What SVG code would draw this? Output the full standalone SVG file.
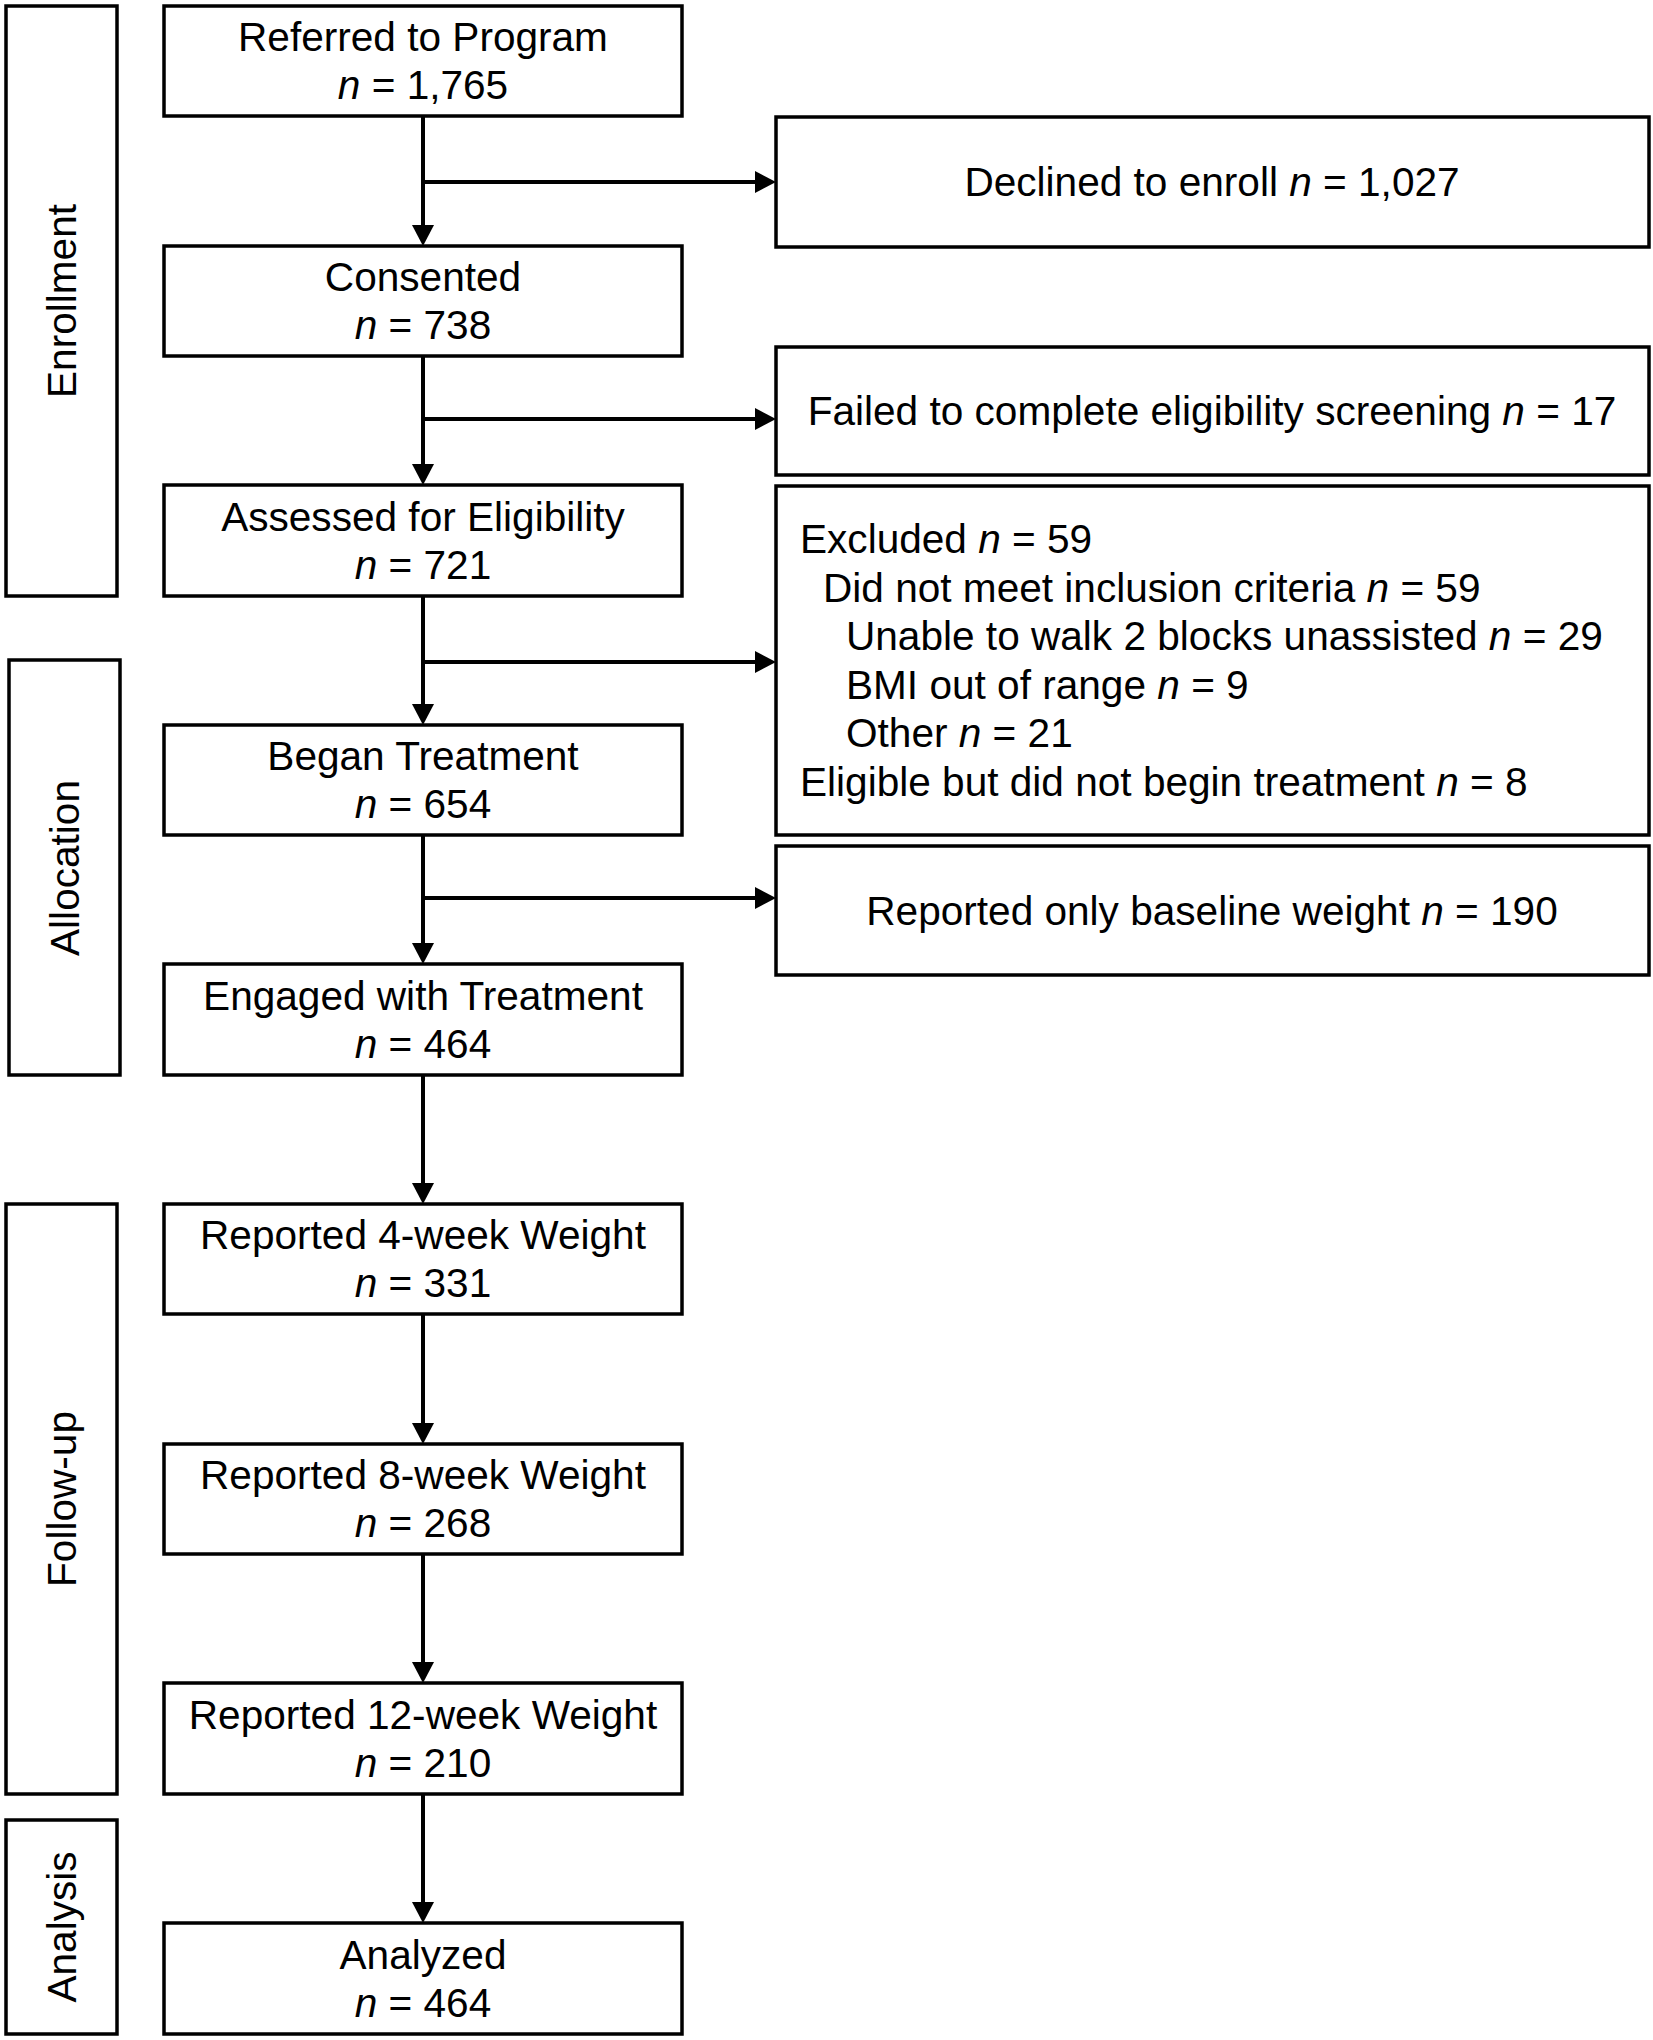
<svg xmlns="http://www.w3.org/2000/svg" width="1653" height="2040" viewBox="0 0 1653 2040">
<defs>
<style>
.box{fill:#fff;stroke:#000;stroke-width:3.5}
.t{font-family:"Liberation Sans",Arial,sans-serif;font-size:40.6px;fill:#000}
.c{text-anchor:middle}
.i{font-style:italic}
.ln{fill:none;stroke:#000;stroke-width:4}
</style>
<marker id="ah" markerUnits="userSpaceOnUse" markerWidth="22" markerHeight="22" refX="10" refY="11" orient="auto">
<path d="M0,0 L21,11 L0,22 z" fill="#000"/>
</marker>
</defs>
<rect width="1653" height="2040" fill="#fff"/>

<g id="stage-enrollment">
<rect class="box" x="6" y="6" width="111" height="590"/>
<text class="t c" transform="translate(76,301) rotate(-90)">Enrollment</text>
</g>
<g id="stage-allocation">
<rect class="box" x="9" y="660" width="111" height="415"/>
<text class="t c" transform="translate(79,868) rotate(-90)">Allocation</text>
</g>
<g id="stage-followup">
<rect class="box" x="6" y="1204" width="111" height="590"/>
<text class="t c" transform="translate(76,1499) rotate(-90)">Follow-up</text>
</g>
<g id="stage-analysis">
<rect class="box" x="6" y="1820" width="111" height="214"/>
<text class="t c" transform="translate(76,1927) rotate(-90)">Analysis</text>
</g>

<g id="connectors">
<line class="ln" x1="423" y1="116" x2="423" y2="235" marker-end="url(#ah)"/>
<line class="ln" x1="423" y1="182" x2="765" y2="182" marker-end="url(#ah)"/>
<line class="ln" x1="423" y1="356" x2="423" y2="474" marker-end="url(#ah)"/>
<line class="ln" x1="423" y1="419" x2="765" y2="419" marker-end="url(#ah)"/>
<line class="ln" x1="423" y1="596" x2="423" y2="714" marker-end="url(#ah)"/>
<line class="ln" x1="423" y1="662" x2="765" y2="662" marker-end="url(#ah)"/>
<line class="ln" x1="423" y1="835" x2="423" y2="953" marker-end="url(#ah)"/>
<line class="ln" x1="423" y1="898" x2="765" y2="898" marker-end="url(#ah)"/>
<line class="ln" x1="423" y1="1075" x2="423" y2="1193" marker-end="url(#ah)"/>
<line class="ln" x1="423" y1="1314" x2="423" y2="1433" marker-end="url(#ah)"/>
<line class="ln" x1="423" y1="1554" x2="423" y2="1672" marker-end="url(#ah)"/>
<line class="ln" x1="423" y1="1794" x2="423" y2="1912" marker-end="url(#ah)"/>
</g>

<g id="referred">
<rect class="box" x="164" y="6" width="518" height="110"/>
<text class="t c" x="423" y="51">Referred to Program</text>
<text class="t c" x="423" y="99"><tspan class="i">n</tspan> = 1,765</text>
</g>
<g id="consented">
<rect class="box" x="164" y="246" width="518" height="110"/>
<text class="t c" x="423" y="291">Consented</text>
<text class="t c" x="423" y="339"><tspan class="i">n</tspan> = 738</text>
</g>
<g id="assessed">
<rect class="box" x="164" y="485" width="518" height="111"/>
<text class="t c" x="423" y="531">Assessed for Eligibility</text>
<text class="t c" x="423" y="579"><tspan class="i">n</tspan> = 721</text>
</g>
<g id="began">
<rect class="box" x="164" y="725" width="518" height="110"/>
<text class="t c" x="423" y="770">Began Treatment</text>
<text class="t c" x="423" y="818"><tspan class="i">n</tspan> = 654</text>
</g>
<g id="engaged">
<rect class="box" x="164" y="964" width="518" height="111"/>
<text class="t c" x="423" y="1010">Engaged with Treatment</text>
<text class="t c" x="423" y="1058"><tspan class="i">n</tspan> = 464</text>
</g>
<g id="week4">
<rect class="box" x="164" y="1204" width="518" height="110"/>
<text class="t c" x="423" y="1249">Reported 4-week Weight</text>
<text class="t c" x="423" y="1297"><tspan class="i">n</tspan> = 331</text>
</g>
<g id="week8">
<rect class="box" x="164" y="1444" width="518" height="110"/>
<text class="t c" x="423" y="1489">Reported 8-week Weight</text>
<text class="t c" x="423" y="1537"><tspan class="i">n</tspan> = 268</text>
</g>
<g id="week12">
<rect class="box" x="164" y="1683" width="518" height="111"/>
<text class="t c" x="423" y="1729">Reported 12-week Weight</text>
<text class="t c" x="423" y="1777"><tspan class="i">n</tspan> = 210</text>
</g>
<g id="analyzed">
<rect class="box" x="164" y="1923" width="518" height="111"/>
<text class="t c" x="423" y="1969">Analyzed</text>
<text class="t c" x="423" y="2017"><tspan class="i">n</tspan> = 464</text>
</g>

<g id="declined">
<rect class="box" x="776" y="117" width="873" height="130"/>
<text class="t c" x="1212" y="196">Declined to enroll <tspan class="i">n</tspan> = 1,027</text>
</g>
<g id="failed">
<rect class="box" x="776" y="347" width="873" height="128"/>
<text class="t c" x="1212" y="425">Failed to complete eligibility screening <tspan class="i">n</tspan> = 17</text>
</g>
<g id="excluded">
<rect class="box" x="776" y="486" width="873" height="349"/>
<text class="t" x="800" y="553">Excluded <tspan class="i">n</tspan> = 59</text>
<text class="t" x="823" y="602">Did not meet inclusion criteria <tspan class="i">n</tspan> = 59</text>
<text class="t" x="846" y="650">Unable to walk 2 blocks unassisted <tspan class="i">n</tspan> = 29</text>
<text class="t" x="846" y="699">BMI out of range <tspan class="i">n</tspan> = 9</text>
<text class="t" x="846" y="747">Other <tspan class="i">n</tspan> = 21</text>
<text class="t" x="800" y="796">Eligible but did not begin treatment <tspan class="i">n</tspan> = 8</text>
</g>
<g id="baseline-only">
<rect class="box" x="776" y="846" width="873" height="129"/>
<text class="t c" x="1212" y="925">Reported only baseline weight <tspan class="i">n</tspan> = 190</text>
</g>
</svg>
